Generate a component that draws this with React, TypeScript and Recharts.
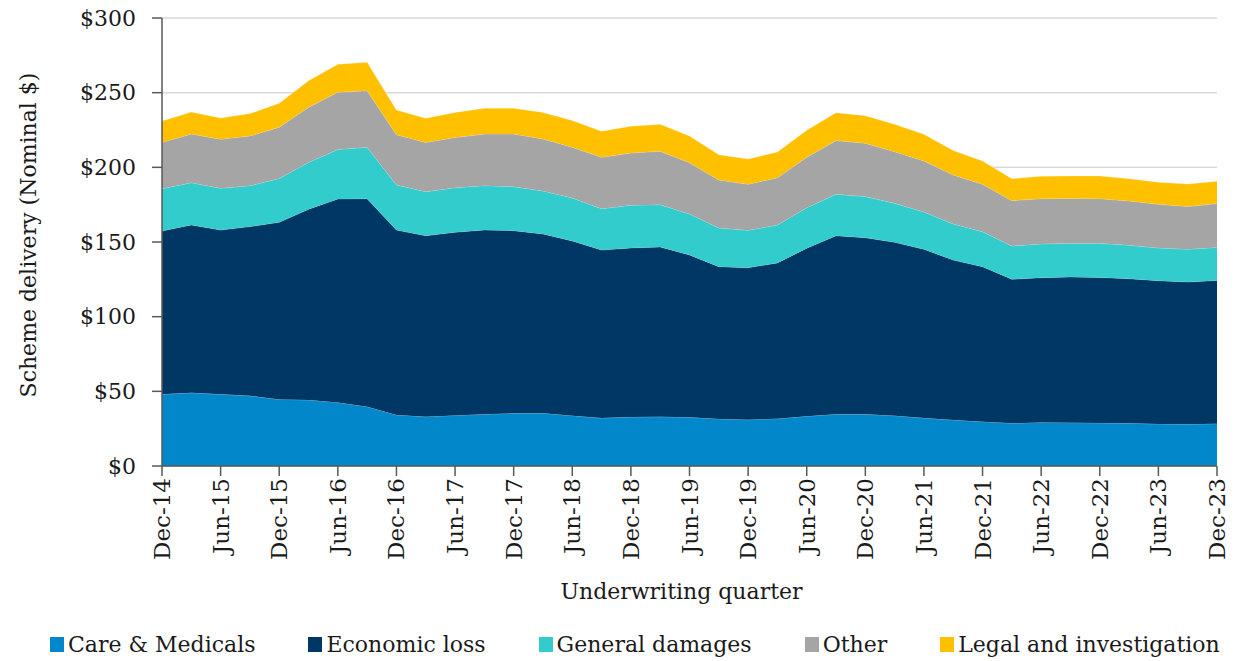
import { AreaChart, Area, CartesianGrid, XAxis, YAxis, Legend } from "recharts";

const quarters = [
  "Dec-14", "Mar-15", "Jun-15", "Sep-15", "Dec-15", "Mar-16", "Jun-16", "Sep-16",
  "Dec-16", "Mar-17", "Jun-17", "Sep-17", "Dec-17", "Mar-18", "Jun-18", "Sep-18",
  "Dec-18", "Mar-19", "Jun-19", "Sep-19", "Dec-19", "Mar-20", "Jun-20", "Sep-20",
  "Dec-20", "Mar-21", "Jun-21", "Sep-21", "Dec-21", "Mar-22", "Jun-22", "Sep-22",
  "Dec-22", "Mar-23", "Jun-23", "Sep-23", "Dec-23",
];

const careMedicals = [
  48, 49, 48, 47, 44.6, 44.2, 42.6, 39.7, 34.2, 33, 33.9, 34.6, 35.3, 35.3, 33.7, 32.1,
  32.8, 33, 32.6, 31.5, 31, 31.7, 33.3, 34.6, 34.6, 33.7, 32.1, 30.8, 29.7, 28.6, 29.2,
  29, 28.8, 28.6, 28.1, 27.9, 28.3,
];
const economicLoss = [
  109.4, 112.4, 110, 113.3, 118.6, 127.7, 136.2, 139.3, 123.8, 121.2, 122.6, 123.4, 122.3,
  120.1, 117, 112.5, 113.2, 113.7, 108.7, 102, 101.8, 104.3, 112.5, 119.6, 118.3, 116.1,
  113, 107.1, 103.8, 96.4, 96.9, 97.6, 97.5, 96.8, 96, 95.3, 96,
];
const generalDamages = [
  28.3, 28.3, 28, 27.4, 29.4, 31.4, 33.2, 34.4, 30.2, 29.5, 29.9, 29.7, 29.4, 28.8, 28.8,
  27.7, 28.6, 28.3, 27.5, 25.9, 25, 25.4, 27.2, 27.7, 27.5, 26.1, 25, 24.2, 23.4, 22.3,
  22.6, 22.5, 22.8, 22.4, 21.9, 21.9, 22.1,
];
const other = [
  31, 32.6, 32.8, 33.3, 34.2, 36.9, 38.2, 37.9, 33.7, 33, 33.6, 34.6, 35.3, 34.8, 33.9,
  34.4, 35, 35.7, 34.3, 32.1, 30.8, 31.7, 33.7, 36, 35.7, 34.6, 34.1, 32.8, 31.7, 30.4,
  30.3, 30.1, 29.9, 29.7, 29.2, 28.6, 29.3,
];
const legalInvestigation = [
  14.3, 14.7, 14.2, 15, 16.1, 17.8, 18.8, 19, 16.5, 16.1, 16.8, 17.2, 17.2, 17.8, 17.9,
  17.4, 17.9, 18.1, 17.9, 17, 17, 17.2, 18.1, 18.7, 18.5, 18.3, 17.9, 16.3, 15.6, 14.7,
  15, 15, 15.2, 14.9, 14.8, 15.1, 14.9,
];

const yTicks = [0, 50, 100, 150, 200, 250, 300];

const series = [
  { key: "care", name: "Care & Medicals", color: "#0288CA" },
  { key: "economic", name: "Economic loss", color: "#003764" },
  { key: "general", name: "General damages", color: "#33CCCC" },
  { key: "other", name: "Other", color: "#A5A5A5" },
  { key: "legal", name: "Legal and investigation", color: "#FFC000" },
];

const data = quarters.map((q, i) => ({
  quarter: q,
  care: careMedicals[i],
  economic: economicLoss[i],
  general: generalDamages[i],
  other: other[i],
  legal: legalInvestigation[i],
}));

const FONT = "'DejaVu Serif', serif";
const AXIS = "#595959";

const XTick = (props: any) => {
  const { x, y, payload } = props;
  return (
    <text
      x={x}
      y={y}
      transform={`rotate(-90 ${x} ${y})`}
      textAnchor="end"
      dy="0.35em"
      fontFamily={FONT}
      fontSize={23}
      fill="#1a1a1a"
    >
      {payload.value}
    </text>
  );
};

const renderLegend = () => (
  <div
    style={{
      display: "flex",
      alignItems: "center",
      height: 34,
      paddingLeft: 50,
      fontFamily: FONT,
      fontSize: 22,
      color: "#1a1a1a",
      whiteSpace: "nowrap",
    }}
  >
    {series.map((s) => (
      <div key={s.key} style={{ display: "flex", alignItems: "center", marginRight: 53 }}>
        <span style={{ width: 14, height: 15, background: s.color, marginRight: 4 }} />
        <span>{s.name}</span>
      </div>
    ))}
  </div>
);

export default function App() {
  return (
    <div style={{ position: "absolute", left: 0, top: 0 }}>
      <AreaChart
        width={1236}
        height={661}
        data={data}
        margin={{ top: 18, right: 19, left: 0, bottom: 0 }}
      >
        <CartesianGrid vertical={false} stroke="#d9d9d9" strokeWidth={1.5} />
        <XAxis
          dataKey="quarter"
          interval={1}
          height={161}
          tick={<XTick />}
          tickSize={10}
          tickMargin={2}
          stroke={AXIS}
          strokeWidth={1.5}
          label={{
            content: ({ viewBox }: any) => (
              <text
                x={viewBox.x + viewBox.width / 2 - 8}
                y={viewBox.y + 133}
                textAnchor="middle"
                fontFamily={FONT}
                fontSize={22}
                fill="#1a1a1a"
              >
                Underwriting quarter
              </text>
            ),
          }}
        />
        <YAxis
          width={162}
          domain={[0, 300]}
          ticks={yTicks}
          tickFormatter={(v: number) => `$${v}`}
          tickSize={10}
          tickMargin={16}
          stroke={AXIS}
          strokeWidth={1.5}
          tick={{ fontFamily: FONT, fontSize: 22, fill: "#1a1a1a" }}
          label={{
            content: ({ viewBox }: any) => (
              <text
                x={28}
                y={viewBox.y + viewBox.height / 2 - 7}
                transform={`rotate(-90 28 ${viewBox.y + viewBox.height / 2 - 7})`}
                textAnchor="middle"
                dy="0.35em"
                fontFamily={FONT}
                fontSize={22}
                fill="#1a1a1a"
              >
                Scheme delivery (Nominal $)
              </text>
            ),
          }}
        />
        <Legend verticalAlign="bottom" content={renderLegend} />
        {series.map((s) => (
          <Area
            key={s.key}
            type="linear"
            dataKey={s.key}
            name={s.name}
            stackId="1"
            fill={s.color}
            fillOpacity={1}
            stroke="#ffffff"
            strokeOpacity={0.35}
            strokeWidth={0.75}
            isAnimationActive={false}
          />
        ))}
      </AreaChart>
    </div>
  );
}
